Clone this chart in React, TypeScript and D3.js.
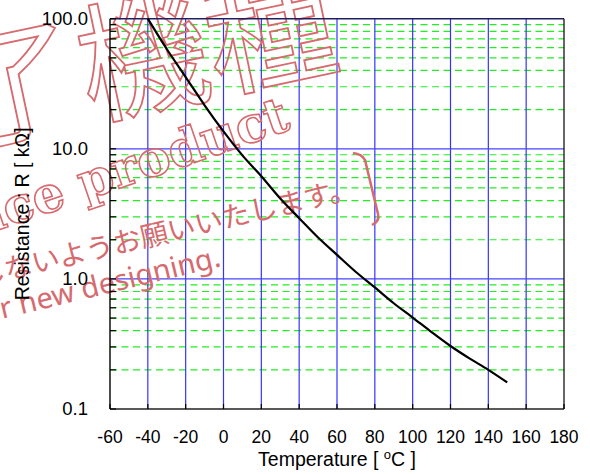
import React from "react";
import * as d3 from "d3";

const temps = [-40, -30, -20, -10, 0, 10, 20, 30, 40, 50, 60, 70, 80, 90, 100, 110, 120, 130, 140, 150];
const resistance = [100, 58.5, 35.6, 21.6, 13.6, 8.9, 6.15, 4.15, 2.93, 2.08, 1.53, 1.13, 0.86, 0.65, 0.505, 0.39, 0.305, 0.245, 0.2, 0.16];
const xTicks = [-60, -40, -20, 0, 20, 40, 60, 80, 100, 120, 140, 160, 180];
const yMajor = [0.1, 1, 10, 100];
const yMajorLabels = ["0.1", "1.0", "10.0", "100.0"];
const yMinor = [0.2, 0.3, 0.4, 0.5, 0.6, 0.7, 0.8, 0.9, 2, 3, 4, 5, 6, 7, 8, 9, 20, 30, 40, 50, 60, 70, 80, 90];

const W = 590, H = 474;
const L = 110, R = 564, T = 18.7, B = 409;
const FONT = "'Liberation Sans', Arial, sans-serif";
const RED = "#d66a6e";

export default function App() {
  const x = d3.scaleLinear().domain([-60, 180]).range([L, R]);
  const y = d3.scaleLog().domain([0.1, 100]).range([B, T]);
  const pts = temps.map((t, i) => [t, resistance[i]] as [number, number]);
  const line = d3.line<[number, number]>().x(d => x(d[0])).y(d => y(d[1])).curve(d3.curveMonotoneX);

  return (
    <svg width={W} height={H} style={{ position: "absolute", left: 0, top: 0, background: "#fff" }}>
      <rect x={0} y={0} width={W} height={H} fill="#fff" />
      {/* green dashed minor grid */}
      {yMinor.map(v => (
        <line key={"m" + v} x1={L} x2={R} y1={y(v)} y2={y(v)} stroke="#22ee22" strokeWidth={1.2} strokeDasharray="7,4.5" />
      ))}
      {/* blue vertical grid */}
      {xTicks.slice(1, -1).map(t => (
        <line key={"v" + t} x1={x(t)} x2={x(t)} y1={T} y2={B} stroke="#3333ff" strokeWidth={1.2} />
      ))}
      {/* blue horizontal major */}
      {yMajor.slice(1, -1).map(v => (
        <line key={"h" + v} x1={L} x2={R} y1={y(v)} y2={y(v)} stroke="#4444ff" strokeWidth={1.2} />
      ))}
      {/* watermark */}
      <g>
        <text transform="translate(343,63) rotate(-12)" textAnchor="end" fontFamily="'Noto Sans CJK JP'" fontSize={130} fill="none" stroke={RED} strokeWidth={1.8}>生産終了機種</text>
        <text transform="translate(292,129) rotate(-19)" textAnchor="end" fontFamily="'DejaVu Serif'" fontWeight={700} fontSize={50} fill="none" stroke={RED} strokeWidth={1.6}>Discontinuance product</text>
        <text transform="translate(358,197) rotate(-13.3)" textAnchor="end" fontFamily="'Noto Sans CJK JP'" fontSize={28} fill={RED}>新規設計には使用しないようお願いいたします。</text>
        <text transform="translate(222,266) rotate(-13.5)" textAnchor="end" fontFamily="'Noto Sans'" fontSize={29} fill={RED}>Not for new designing.</text>
        <path d="M353,153 Q362,154 365,160 L378,214 Q380,221 372,225" fill="none" stroke={RED} strokeWidth={2.5} />
      </g>
      {/* frame */}
      <line x1={L} x2={R} y1={T} y2={T} stroke="#202060" strokeWidth={1.6} />
      <line x1={R} x2={R} y1={T} y2={B} stroke="#000" strokeWidth={1.2} />
      <line x1={L} x2={R} y1={B} y2={B} stroke="#222" strokeWidth={1.4} />
      <line x1={L} x2={L} y1={T} y2={B} stroke="#000" strokeWidth={1.4} />
      {/* left ticks */}
      {[...yMinor, ...yMajor].map(v => (
        <line key={"lt" + v} x1={L} x2={L + 6} y1={y(v)} y2={y(v)} stroke="#000" strokeWidth={1.2} />
      ))}
      {/* bottom ticks */}
      {xTicks.map(t => (
        <line key={"bt" + t} x1={x(t)} x2={x(t)} y1={B} y2={B - 5} stroke="#000" strokeWidth={1.2} />
      ))}
      {/* curve */}
      <path d={line(pts) || ""} fill="none" stroke="#000" strokeWidth={2.2} />
      {/* tick labels */}
      {xTicks.map(t => (
        <text key={"xl" + t} x={x(t)} y={443} textAnchor="middle" fontFamily={FONT} fontSize={17.5} fill="#000">{t}</text>
      ))}
      {yMajor.map((v, i) => (
        <text key={"yl" + v} x={88} y={y(v)} dy="0.35em" textAnchor="end" fontFamily={FONT} fontSize={18.5} fill="#000">{yMajorLabels[i]}</text>
      ))}
      <text x={(L + R) / 2} y={466} textAnchor="middle" fontFamily={FONT} fontSize={19.5} fill="#000">
        Temperature [ <tspan dy={-7} fontSize={13}>o</tspan><tspan dy={7}>C ]</tspan>
      </text>
      <text transform={`translate(29,${(T + B) / 2}) rotate(-90)`} textAnchor="middle" fontFamily={FONT} fontSize={19.5} fill="#000">Resistance : R [ kΩ]</text>
    </svg>
  );
}
